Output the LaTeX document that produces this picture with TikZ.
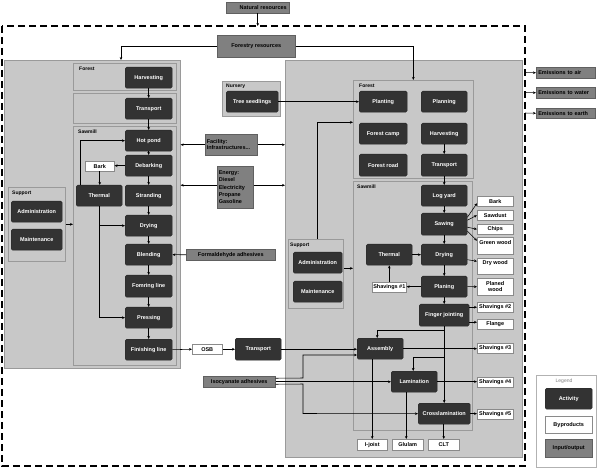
\documentclass[tikz,border=0pt]{standalone}
\usepackage{fontspec}
\setmainfont{Liberation Sans}
\usetikzlibrary{arrows.meta}
\definecolor{panelfill}{HTML}{C8C8C8}
\definecolor{panelline}{HTML}{9A9A9A}
\definecolor{actfill}{HTML}{333333}
\definecolor{iofill}{HTML}{808080}
\definecolor{ioline}{HTML}{606060}
\definecolor{byline}{HTML}{8A8A8A}
\newcommand\bx[7]{\node[#1, anchor=north west, minimum width={(#5)-(#3)}, minimum height={(#6)-(#4)}] (#2) at (#3,#4) {#7};}
\tikzset{
 base/.style={inner sep=1pt, font=\fontsize{5.5}{6.5}\selectfont\bfseries, align=center},
 panel/.style={draw=panelline, fill=panelfill, line width=0.6pt},
 act/.style={base, draw=black!85, fill=actfill, rounded corners=1.5pt, text=white},
 byp/.style={base, draw=byline, fill=white, line width=0.5pt},
 io/.style={base, draw=ioline, fill=iofill, line width=0.5pt},
 plabel/.style={font=\fontsize{5}{6}\selectfont\bfseries, inner sep=0pt, anchor=west},
 arr/.style={-{Stealth[length=3pt,width=2.6pt]}, line width=0.55pt},
 ln/.style={line width=0.55pt},
 dashbox/.style={line width=1.3pt, dash pattern=on 7pt off 4pt},
}
\begin{document}
\begin{tikzpicture}[x=1pt,y=-1pt]
\fill[white] (0,0) rectangle (597,470);
\useasboundingbox (0,0) rectangle (597,470);
% outer dashed boundary
\draw[dashbox] (2,26) rectangle (525,466);
\coordinate (dashtop) at (258,26);
% panels
\bx{panel}{leftbig}{4}{60}{180}{368}{}
\bx{panel}{lforest}{73}{63}{176}{90}{}
\bx{panel}{lmid}{73}{93}{176}{123}{}
\bx{panel}{lsawmill}{73}{126}{176}{365}{}
\bx{panel}{lsupport}{8}{187}{65}{261}{}
\bx{panel}{nursery}{222}{81}{280}{116}{}
\bx{panel}{rightbig}{285}{60}{522}{457}{}
\bx{panel}{rforest}{353}{80}{473}{178}{}
\bx{panel}{rsawmill}{353}{181}{472}{430}{}
\bx{panel}{rsupport}{288}{239}{343}{308}{}
\bx{draw=gray!60, fill=white, line width=0.5pt}{legend}{536}{375}{596}{467}{}
% panel labels
\node[plabel] (lforestlab) at (79,69) {Forest};
\node[plabel] (lsawlab) at (78,132) {Sawmill};
\node[plabel] (lsuplab) at (12,193) {Support};
\node[plabel] (nurlab) at (226,86) {Nursery};
\node[plabel] (rforestlab) at (359,86) {Forest};
\node[plabel] (rsawlab) at (357,187) {Sawmill};
\node[plabel] (rsuplab) at (290,245) {Support};
\node[font=\fontsize{5}{6}\selectfont, text=gray, inner sep=0pt] (leglab) at (564,381) {Legend};
% input / output
\bx{io, align=right, text width=58pt}{nat}{226}{2}{289}{13}{Natural resources}
\bx{io}{forres}{217}{35}{295}{57}{Forestry resources}
\bx{io, align=left, text width=49pt}{facility}{205}{134}{257}{155}{Facility:\\Infrastructures...}
\bx{io, align=left, text width=33pt, font=\fontsize{5.5}{7.2}\selectfont\bfseries}{energy}{217}{166}{253}{208}{Energy:\\Diesel\\Electricity\\Propane\\Gasoline}
\bx{io}{formald}{186}{249}{275}{260}{Formaldehyde adhesives}
\bx{io}{isocy}{203}{376}{275}{387}{Isocyanate adhesives}
\bx{io, align=left, text width=55pt}{emair}{536}{67}{595}{78}{Emissions to air}
\bx{io, align=left, text width=55pt}{emwater}{536}{87}{595}{98}{Emissions to water}
\bx{io, align=left, text width=55pt}{emearth}{536}{108}{595}{118}{Emissions to earth}
\bx{io}{legio}{545}{439}{592}{457}{Input/output}
% activities left
\bx{act}{harv1}{125}{67}{172}{88}{Harvesting}
\bx{act}{trans1}{125}{98}{172}{119}{Transport}
\bx{act}{hotpond}{125}{130}{172}{151}{Hot pond}
\bx{act}{debark}{125}{155}{172}{176}{Debarking}
\bx{act}{strand}{125}{185}{172}{206}{Stranding}
\bx{act}{dry1}{125}{215}{172}{236}{Drying}
\bx{act}{blend}{125}{244}{172}{265}{Blending}
\bx{act}{forming}{125}{275}{172}{297}{Fomring line}
\bx{act}{press}{125}{307}{172}{328}{Pressing}
\bx{act}{finish}{125}{339}{172}{360}{Finishing line}
\bx{act}{therm1}{76}{185}{122}{206}{Thermal}
\bx{act}{admin1}{11}{201}{62}{222}{Administration}
\bx{act}{maint1}{11}{229}{62}{250}{Maintenance}
\bx{act}{trans2}{235}{338}{281}{360}{Transport}
% activities right
\bx{act}{seedl}{226}{91}{278}{112}{Tree seedlings}
\bx{act}{plant}{359}{91}{407}{112}{Planting}
\bx{act}{plan}{421}{91}{467}{112}{Planning}
\bx{act}{camp}{359}{123}{407}{144}{Forest camp}
\bx{act}{harv2}{421}{123}{467}{144}{Harvesting}
\bx{act}{road}{359}{154}{407}{176}{Forest road}
\bx{act}{trans3}{421}{154}{467}{176}{Transport}
\bx{act}{logyard}{421}{185}{467}{206}{Log yard}
\bx{act}{sawing}{421}{213}{467}{235}{Sawing}
\bx{act}{dry2}{421}{244}{467}{265}{Drying}
\bx{act}{planing}{421}{276}{467}{297}{Planing}
\bx{act}{finger}{419}{304}{469}{326}{Finger jointing}
\bx{act}{therm2}{366}{244}{412}{265}{Thermal}
\bx{act}{admin2}{293}{252}{342}{273}{Administration}
\bx{act}{maint2}{293}{281}{342}{302}{Maintenance}
\bx{act}{assembly}{357}{338}{403}{359}{Assembly}
\bx{act}{lamin}{391}{371}{437}{392}{Lamination}
\bx{act}{crossl}{418}{403}{470}{424}{Crosslamination}
\bx{act}{legact}{545}{388}{592}{409}{Activity}
% byproducts
\bx{byp}{bark1}{85}{161}{114}{171}{Bark}
\bx{byp}{osb}{192}{344}{222}{354}{OSB}
\bx{byp}{shav1}{372}{282}{406}{292}{Shavings \#1}
\bx{byp}{bark2}{477}{196}{513}{206}{Bark}
\bx{byp}{sawdust}{477}{210}{513}{220}{Sawdust}
\bx{byp}{chips}{477}{224}{513}{234}{Chips}
\bx{byp}{green}{477}{237}{513}{254}{Green wood\\ \mbox{}}
\bx{byp}{drywood}{477}{258}{513}{274}{Dry wood\\ \mbox{}}
\bx{byp}{planed}{477}{278}{513}{295}{Planed\\wood}
\bx{byp}{shav2}{477}{302}{513}{312}{Shavings \#2}
\bx{byp}{flange}{477}{319}{513}{329}{Flange}
\bx{byp}{shav3}{477}{343}{513}{353}{Shavings \#3}
\bx{byp}{shav4}{477}{377}{513}{387}{Shavings \#4}
\bx{byp}{shav5}{477}{409}{513}{419}{Shavings \#5}
\bx{byp}{ijoist}{357}{439}{387}{450}{I-joist}
\bx{byp}{glulam}{392}{439}{423}{450}{Glulam}
\bx{byp}{clt}{428}{439}{459}{450}{CLT}
\bx{byp}{legbyp}{545}{416}{592}{433}{Byproducts}
% coordinates
\coordinate (lin) at (121,60);
\coordinate (e1) at (525,72.5);
\coordinate (e2) at (525,92.5);
\coordinate (e3) at (525,113);
% connectors top
\draw[arr] (nat.south) -- (nat.south |- dashtop);
\draw[arr] (forres.west) -| (lin);
\draw[arr] (forres.east) -| (rforest.north);
\draw[arr] (e1) -- (emair.west);
\draw[arr] (e2) -- (emwater.west);
\draw[arr] (e3) -- (emearth.west);
% left chain
\draw[arr] (harv1) -- (trans1);
\draw[arr] (trans1) -- (hotpond);
\draw[arr] (hotpond) -- (debark);
\draw[arr] (debark) -- (strand);
\draw[arr] (strand) -- (dry1);
\draw[arr] (dry1) -- (blend);
\draw[arr] (blend) -- (forming);
\draw[arr] (forming) -- (press);
\draw[arr] (press) -- (finish);
\draw[arr] (debark.west) -- (debark.west -| bark1.east);
\draw[arr] (bark1.south) -- (bark1.south |- therm1.north);
\draw[arr] ([xshift=-19pt]therm1.north) |- (hotpond.west);
\draw[arr] (therm1.south) |- (press.west);
\draw[arr] (therm1.south |- dry1.west) -- (dry1.west);
\draw[arr] (lsupport.east) -- (lsupport.east -| lsawmill.west);
% middle
\draw[arr] (facility.west) -- (facility.west -| leftbig.east);
\draw[arr] (facility.east) -- (facility.east -| rightbig.west);
\draw[arr] ([yshift=2pt]energy.west) -- ([yshift=2pt]energy.west -| leftbig.east);
\draw[arr] ([yshift=2pt]energy.east) -- ([yshift=2pt]energy.east -| rightbig.west);
\draw[arr] (formald.west) -- (blend.east);
\draw[arr] (finish.east) -- (osb.west);
\draw[arr] (osb.east) -- (osb.east -| trans2.west);
\draw[arr] (trans2.east) -- (trans2.east -| assembly.west);
% right
\draw[arr] (seedl.east) -- (plant.west);
\draw[arr] ([xshift=1.5pt]rsupport.north) |- ([yshift=7pt]rforest.west);
\draw[arr] ([yshift=5.5pt]rsupport.east) -- ([yshift=5.5pt]rsupport.east -| rsawmill.west);
\draw[arr] (harv2) -- (trans3);
\draw[arr] (trans3) -- (logyard);
\draw[arr] (logyard) -- (sawing);
\draw[arr] (sawing) -- (dry2);
\draw[arr] (dry2) -- (planing);
\draw[arr] (planing) -- (finger);
\draw[arr] (therm2.east) -- (dry2.west);
\draw[arr] (planing.west) -- (planing.west -| shav1.east);
\draw[arr] (shav1.north) -- (shav1.north |- therm2.south);
\draw[arr] ([yshift=7pt]sawing.east) -- ([yshift=-2pt]bark2.west);
\draw[arr] ([yshift=4pt]sawing.east) -- (sawdust.west);
\draw[arr] ([yshift=-3pt]sawing.east) -- (chips.west);
\draw[arr] ([yshift=-7pt]sawing.east) -- ([yshift=5pt]green.west);
\draw[arr] ([yshift=-5pt]dry2.east) -- ([yshift=5pt]drywood.west);
\draw[arr] (planing.east) -- (planed.west);
\draw[arr] ([yshift=8pt]finger.east) -- ([yshift=8pt]finger.east -| shav2.west);
\draw[arr] ([yshift=-7pt]finger.east) -- ([yshift=-7pt]finger.east -| flange.west);
\draw[arr] (finger.south) -- (crossl.north);
\draw[arr] (finger.south |- 0,330) -| ([xshift=-3pt]assembly.north);
\draw[arr] (finger.south |- 0,357) -| ([xshift=-1pt]lamin.north);
\draw[arr] (assembly.east) -- (assembly.east -| shav3.west);
\draw[arr] (lamin.east) -- (lamin.east -| shav4.west);
\draw[arr] (crossl.east) -- (crossl.east -| shav5.west);
\draw[arr] (ijoist.north |- assembly.south) -- (ijoist.north);
\draw[arr] ([xshift=-1.5pt]glulam.north |- lamin.south) -- ([xshift=-1.5pt]glulam.north);
\draw[arr] (clt.north |- crossl.south) -- (clt.north);
% isocyanate
\draw[arr] ([yshift=3.5pt]isocy.east) -- (303,378) -- (303,355) -- (assembly.west |- 0,355);
\draw[arr] (isocy.east) -- (isocy.east -| lamin.west);
\draw[arr] ([yshift=-2.5pt]isocy.east) -- (303,384) -- (303,413.5) -- (crossl.west);
\end{tikzpicture}
\end{document}
